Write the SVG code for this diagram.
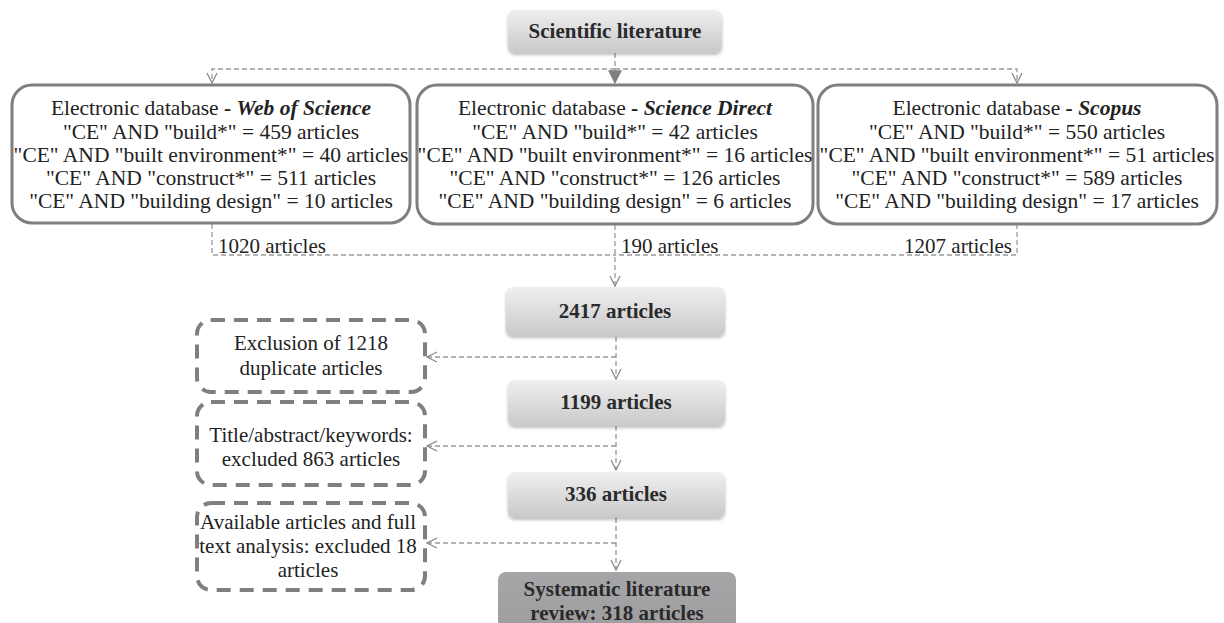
<svg xmlns="http://www.w3.org/2000/svg" width="1224" height="623" viewBox="0 0 1224 623">
<style>
  .db { fill: #ffffff; stroke: #7f7f7f; stroke-width: 3; }
  .dbt { font-family: Times, serif; font-size: 21.5px; fill: #222222; text-anchor: middle; }
  .gb { fill: url(#gl); }
  .gbt { font-family: Times, serif; font-size: 21px; font-weight: bold; fill: #2a2a2a; text-anchor: middle; }
  .xb { fill: #ffffff; stroke: #7f7f7f; stroke-width: 4; stroke-dasharray: 14 9; }
  .xbt { font-family: Times, serif; font-size: 21px; fill: #222222; text-anchor: middle; }
  .lbl { font-family: Times, serif; font-size: 21px; fill: #222222; }
  .dash { fill: none; stroke: #9a9a9a; stroke-width: 1.3; stroke-dasharray: 5 3; }
</style>
<defs>
  <linearGradient id="gl" x1="0" y1="0" x2="0" y2="1">
    <stop offset="0" stop-color="#efeff0"/>
    <stop offset="1" stop-color="#c9c9cb"/>
  </linearGradient>
  <linearGradient id="gd" x1="0" y1="0" x2="0" y2="1">
    <stop offset="0" stop-color="#a6a6a9"/>
    <stop offset="1" stop-color="#9c9c9f"/>
  </linearGradient>
  <filter id="sh" x="-10%" y="-20%" width="120%" height="150%">
    <feDropShadow dx="0" dy="2" stdDeviation="1.5" flood-color="#000000" flood-opacity="0.25"/>
  </filter>
  <marker id="av" viewBox="0 0 12 12" refX="11" refY="6" markerWidth="12" markerHeight="12" markerUnits="userSpaceOnUse" orient="auto">
    <path d="M1,1 L11,6 L1,11" fill="none" stroke="#8a8a8a" stroke-width="1.3"/>
  </marker>
  <marker id="af" viewBox="0 0 12 12" refX="11" refY="6" markerWidth="14" markerHeight="14" markerUnits="userSpaceOnUse" orient="auto">
    <path d="M0,0 L12,6 L0,12 Z" fill="#7f7f7f"/>
  </marker>
</defs>

<g id="connectors">
  <path class="dash" d="M615,53 V83" marker-end="url(#af)"/>
  <path class="dash" d="M615,69 H212 V83" marker-end="url(#av)"/>
  <path class="dash" d="M615,69 H1017 V83" marker-end="url(#av)"/>
  <path class="dash" d="M212,224 V255 H615"/>
  <path class="dash" d="M1017,224 V255 H615"/>
  <path class="dash" d="M615,225 V286" marker-end="url(#av)"/>
  <path class="dash" d="M616,337 V379" marker-end="url(#av)"/>
  <path class="dash" d="M616,357 H427" marker-end="url(#av)"/>
  <path class="dash" d="M616,426 V470" marker-end="url(#av)"/>
  <path class="dash" d="M616,446 H427" marker-end="url(#av)"/>
  <path class="dash" d="M616,518 V570" marker-end="url(#av)"/>
  <path class="dash" d="M616,543 H427" marker-end="url(#av)"/>
  <text class="lbl" x="218" y="253">1020 articles</text>
  <text class="lbl" x="621" y="253">190 articles</text>
  <text class="lbl" x="1012" y="253" text-anchor="end">1207 articles</text>
</g>

<g id="scientific-literature">
  <rect class="gb" x="508" y="10" width="214" height="43" rx="7" filter="url(#sh)"/>
  <text class="gbt" x="615" y="38">Scientific literature</text>
</g>

<g id="db-wos">
  <rect class="db" x="12" y="85" width="398" height="138" rx="20"/>
  <text class="dbt" x="211" y="115">Electronic database <tspan font-weight="bold">- </tspan><tspan font-weight="bold" font-style="italic">Web of Science</tspan></text>
  <text class="dbt" x="211" y="138.5">"CE" AND "build*" = 459 articles</text>
  <text class="dbt" x="211" y="162">"CE" AND "built environment*" = 40 articles</text>
  <text class="dbt" x="211" y="185">"CE" AND "construct*" = 511 articles</text>
  <text class="dbt" x="211" y="208">"CE" AND "building design" = 10 articles</text>
</g>

<g id="db-sd">
  <rect class="db" x="417" y="85" width="396" height="139" rx="20"/>
  <text class="dbt" x="615" y="115">Electronic database <tspan font-weight="bold">- </tspan><tspan font-weight="bold" font-style="italic">Science Direct</tspan></text>
  <text class="dbt" x="615" y="138.5">"CE" AND "build*" = 42 articles</text>
  <text class="dbt" x="615" y="162">"CE" AND "built environment*" = 16 articles</text>
  <text class="dbt" x="615" y="185">"CE" AND "construct*" = 126 articles</text>
  <text class="dbt" x="615" y="208">"CE" AND "building design" = 6 articles</text>
</g>

<g id="db-scopus">
  <rect class="db" x="818" y="85" width="399" height="139" rx="20"/>
  <text class="dbt" x="1017" y="115">Electronic database <tspan font-weight="bold">- </tspan><tspan font-weight="bold" font-style="italic">Scopus</tspan></text>
  <text class="dbt" x="1017" y="138.5">"CE" AND "build*" = 550 articles</text>
  <text class="dbt" x="1017" y="162">"CE" AND "built environment*" = 51 articles</text>
  <text class="dbt" x="1017" y="185">"CE" AND "construct*" = 589 articles</text>
  <text class="dbt" x="1017" y="208">"CE" AND "building design" = 17 articles</text>
</g>

<g id="n2417">
  <rect class="gb" x="506" y="287" width="219" height="49" rx="7" filter="url(#sh)"/>
  <text class="gbt" x="615" y="318">2417 articles</text>
</g>

<g id="excl-duplicates">
  <rect class="xb" x="197" y="320" width="228" height="72" rx="14"/>
  <text class="xbt" x="311" y="350">Exclusion of 1218</text>
  <text class="xbt" x="311" y="375">duplicate articles</text>
</g>

<g id="n1199">
  <rect class="gb" x="508" y="380" width="217" height="46" rx="7" filter="url(#sh)"/>
  <text class="gbt" x="616" y="409">1199 articles</text>
</g>

<g id="excl-title">
  <rect class="xb" x="197" y="402" width="228" height="83" rx="14"/>
  <text class="xbt" x="311" y="442">Title/abstract/keywords:</text>
  <text class="xbt" x="311" y="466">excluded 863 articles</text>
</g>

<g id="n336">
  <rect class="gb" x="508" y="472" width="217" height="46" rx="7" filter="url(#sh)"/>
  <text class="gbt" x="616" y="501">336 articles</text>
</g>

<g id="excl-fulltext">
  <rect class="xb" x="197" y="503" width="228" height="87" rx="14"/>
  <text class="xbt" x="308" y="529">Available articles and full</text>
  <text class="xbt" x="308" y="553">text analysis: excluded 18</text>
  <text class="xbt" x="308" y="577">articles</text>
</g>

<g id="final">
  <rect x="498" y="572" width="238" height="70" rx="8" fill="url(#gd)"/>
  <text class="gbt" x="617" y="596">Systematic literature</text>
  <text class="gbt" x="617" y="620">review: 318 articles</text>
</g>
</svg>
